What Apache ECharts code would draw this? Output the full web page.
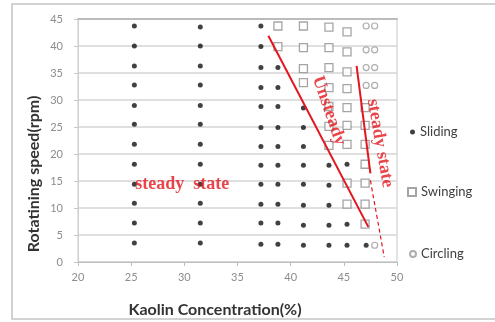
<!DOCTYPE html>
<html>
<head>
<meta charset="utf-8">
<script src="https://cdn.jsdelivr.net/npm/echarts@6/dist/echarts.min.js"></script>
<style>
html,body{margin:0;padding:0;background:#fff;}
#chart{width:495px;height:322px;}
</style>
</head>
<body>
<div id="chart"></div>
<script>
// axis ticks
var xTicks = [20, 25, 30, 35, 40, 45, 50];
var yTicks = [0, 5, 10, 15, 20, 25, 30, 35, 40, 45];

// Sliding : one entry per kaolin concentration column, speeds
var slidingCols = [
    [25.3, [3.5, 7.2, 10.9, 14.4, 18.1, 21.8, 25.5, 29.0, 32.8, 36.3, 40.0, 43.7]],
    [31.5, [3.5, 7.2, 10.9, 14.4, 18.1, 21.8, 25.5, 29.0, 32.8, 36.3, 40.0, 43.5]],
    [37.2, [3.3, 7.2, 10.7, 14.4, 17.9, 21.4, 24.9, 28.8, 32.3, 36.0, 39.9, 43.7]],
    [38.8, [3.3, 7.2, 10.7, 14.4, 17.9, 21.4, 24.9, 28.8, 32.3, 36.0]],
    [41.2, [3.1, 6.8, 10.5, 14.4, 17.9, 21.4, 24.9, 28.5]],
    [43.6, [3.1, 6.8, 10.5, 14.2, 17.9]],
    [45.3, [3.1, 7.0, 18.1]],
    [47.1, [3.1]]
];
// Swinging
var swingingCols = [
    [38.8, [39.9, 43.7]],
    [41.2, [33.2, 35.8, 39.7, 43.7]],
    [43.6, [21.6, 25.1, 28.8, 32.3, 36.0, 39.7, 43.5]],
    [45.3, [10.7, 14.6, 21.8, 25.3, 28.6, 32.1, 35.2, 38.9, 42.6]],
    [47.0, [7.0, 10.7, 14.6, 18.1, 21.8, 25.3, 28.6]]
];
// Circling
var circlingCols = [
    [47.1, [32.7, 36.0, 39.3, 43.7]],
    [47.9, [3.1, 32.7, 36.0, 39.3, 43.7]]
];

// boundary lines drawn on the chart
var unsteadyLine = [[37.9, 41.9], [47.3, 6.5]];
var steadyLine = [[46.2, 36.3], [47.5, 16.4]];
var dashLine = [[47.5, 15.1], [48.8, 0.9]];

// annotations : text, position, rotation
var notes = [
    ['steady  state', 29.8, 14.3, 0],
    ['Unsteady', 43.6, 28.0, -71],
    ['steady state', 48.4, 22.0, -80]
];

function toPoints(cols) {
    var pts = [];
    for (var i = 0; i < cols.length; i++) {
        for (var j = 0; j < cols[i][1].length; j++) {
            pts.push([cols[i][0], cols[i][1][j]]);
        }
    }
    return pts;
}

var red = '#e3161d';
var noteData = [];
for (var k = 0; k < notes.length; k++) {
    noteData.push({
        name: notes[k][0],
        value: [notes[k][1], notes[k][2]],
        label: { rotate: notes[k][3] }
    });
}

var legendText = { color: '#404040', fontSize: 13, fontFamily: 'Lato', lineHeight: 14 };

var option = {
    animation: false,
    grid: {
        left: 78, right: 98, top: 19, bottom: 60,
        show: true, borderColor: '#c8c8c8', borderWidth: 1
    },
    graphic: [
        { type: 'rect', shape: { x: 12, y: 4, width: 492, height: 315 },
          style: { fill: 'none', stroke: '#d2d2d2', lineWidth: 2 }, z: -10 },
        { type: 'text', x: 215, y: 310,
          style: { text: 'Kaolin Concentration(%)', fill: '#333', font: 'bold 16px Lato', align: 'center', verticalAlign: 'middle' } },
        { type: 'text', x: 34, y: 174, rotation: Math.PI / 2,
          style: { text: 'Rotatining speed(rpm)', fill: '#333', font: 'bold 16px Lato', align: 'center', verticalAlign: 'middle' } }
    ],
    legend: [
        { data: ['Sliding'], orient: 'vertical', left: 410, top: 125, padding: 0,
          itemWidth: 5, itemHeight: 5, itemGap: 0, textStyle: legendText },
        { data: ['Swinging'], orient: 'vertical', left: 407, top: 185, padding: 0,
          itemWidth: 8, itemHeight: 8, itemGap: 0, textStyle: legendText },
        { data: ['Circling'], orient: 'vertical', left: 409, top: 247, padding: 0,
          itemWidth: 6, itemHeight: 6, itemGap: 0, textStyle: legendText }
    ],
    xAxis: [{
        type: 'value', min: xTicks[0], max: xTicks[xTicks.length - 1], interval: 5,
        axisLine: { show: true, lineStyle: { color: '#bdbdbd' } },
        axisTick: { show: true, length: 4, lineStyle: { color: '#bdbdbd' } },
        splitLine: { show: false },
        axisLabel: { color: '#8c8c8c', fontSize: 11, fontFamily: 'Lato', margin: 10 }
    }, {
        type: 'value', position: 'top', min: 20, max: 50,
        axisLine: { show: true, lineStyle: { color: '#bcbcbc', width: 2 } },
        axisTick: { show: false }, axisLabel: { show: false }, splitLine: { show: false }
    }],
    yAxis: {
        type: 'value', min: yTicks[0], max: yTicks[yTicks.length - 1], interval: 5,
        axisLine: { show: true, lineStyle: { color: '#d0d0d0' } },
        axisTick: { show: true, length: 4, lineStyle: { color: '#c8c8c8' } },
        splitLine: { show: true, lineStyle: { color: '#d4d4d4', width: 1.5 } },
        axisLabel: { color: '#8c8c8c', fontSize: 11, fontFamily: 'Lato', margin: 15 }
    },
    series: [
        {
            name: 'Sliding', type: 'scatter', data: toPoints(slidingCols),
            symbol: 'circle', symbolSize: 5,
            itemStyle: { color: '#111' }
        },
        {
            name: 'Swinging', type: 'scatter', data: toPoints(swingingCols),
            symbol: 'rect', symbolSize: 8,
            itemStyle: { color: '#fff', borderColor: '#8f8f8f', borderWidth: 1.3 }
        },
        {
            name: 'Circling', type: 'scatter', data: toPoints(circlingCols),
            symbol: 'circle', symbolSize: 6,
            itemStyle: { color: '#fff', borderColor: '#9a9a9a', borderWidth: 1.2 }
        },
        {
            type: 'line', data: unsteadyLine, showSymbol: false, silent: true, z: 5,
            lineStyle: { color: red, width: 2 }
        },
        {
            type: 'line', data: steadyLine, showSymbol: false, silent: true, z: 5,
            lineStyle: { color: red, width: 2 }
        },
        {
            type: 'line', data: dashLine, showSymbol: false, silent: true, z: 5,
            lineStyle: { color: red, width: 1.2, type: [4, 3] }
        },
        {
            type: 'scatter', data: noteData, symbolSize: 0, silent: true, z: 6,
            label: {
                show: true, position: 'inside', formatter: '{b}',
                color: red, fontSize: 18, fontWeight: 'bold', fontFamily: 'Liberation Serif'
            }
        }
    ]
};

var myChart = echarts.init(document.getElementById('chart'));
myChart.setOption(option);
</script>
</body>
</html>
